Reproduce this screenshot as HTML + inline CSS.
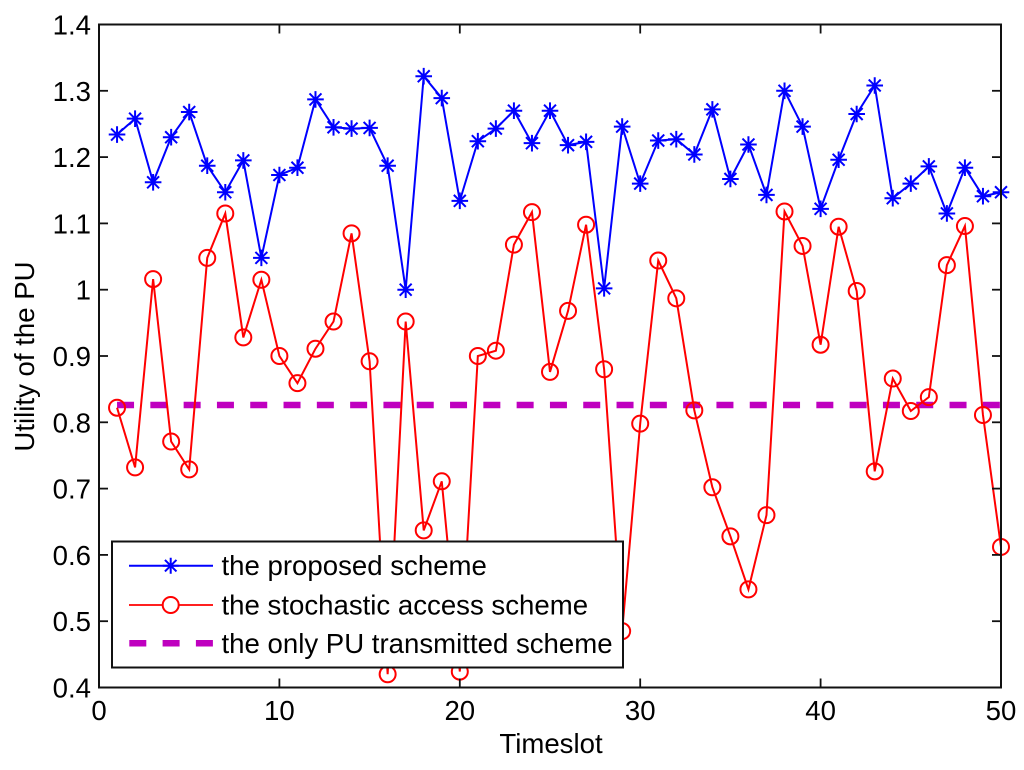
<!DOCTYPE html>
<html>
<head>
<meta charset="utf-8">
<style>
html,body{margin:0;padding:0;background:#fff;}
svg{display:block;font-family:"Liberation Sans",Arial,sans-serif;}
</style>
</head>
<body>
<svg id="chart" width="1024" height="770" viewBox="0 0 1024 770" xmlns="http://www.w3.org/2000/svg">
<rect x="99" y="24.5" width="902" height="663" fill="#fff"/>
<g id="marks"></g>
<g id="axes"></g>
<g id="legend"></g>
</svg>
<script>
const proposedScheme = [1.234,1.258,1.162,1.23,1.268,1.187,1.147,1.195,1.048,1.173,1.184,1.287,1.245,1.243,1.244,1.187,1.0,1.322,1.289,1.134,1.224,1.243,1.27,1.221,1.27,1.218,1.223,1.002,1.246,1.16,1.225,1.227,1.204,1.272,1.167,1.219,1.143,1.3,1.246,1.122,1.196,1.265,1.308,1.138,1.16,1.186,1.115,1.184,1.141,1.147];
const stochasticScheme = [0.822,0.732,1.016,0.771,0.729,1.048,1.115,0.928,1.015,0.9,0.859,0.911,0.952,1.085,0.892,0.42,0.952,0.637,0.711,0.424,0.9,0.908,1.068,1.117,0.876,0.968,1.098,0.88,0.485,0.798,1.044,0.987,0.818,0.702,0.628,0.548,0.66,1.118,1.066,0.917,1.095,0.998,0.726,0.866,0.817,0.838,1.037,1.096,0.811,0.612];
const onlyPuScheme = [0.826,0.826];
const onlyPuSlots = [1,50];
const xTicks = [0,10,20,30,40,50];
const yTicks = [0.4,0.5,0.6,0.7,0.8,0.9,1,1.1,1.2,1.3,1.4];
const yTickLabels = ['0.4','0.5','0.6','0.7','0.8','0.9','1','1.1','1.2','1.3','1.4'];
const legendLabels = ['the proposed scheme','the stochastic access scheme','the only PU transmitted scheme'];

const NS = 'http://www.w3.org/2000/svg';
const L = 99, R = 1001, T = 24.5, B = 687.5;
const FONT = 27.6;
function xScale(v){ return L + (v - 0) / 50 * (R - L); }
function yScale(v){ return B - (v - 0.4) / 1.0 * (B - T); }
function make(tag, attrs, parent){
  const el = document.createElementNS(NS, tag);
  for (const k in attrs) el.setAttribute(k, attrs[k]);
  parent.appendChild(el);
  return el;
}
function star(g, cx, cy, r, color){
  const p = 'M' + (cx - r) + ' ' + cy + 'L' + (cx + r) + ' ' + cy +
    'M' + cx + ' ' + (cy - r) + 'L' + cx + ' ' + (cy + r) +
    'M' + (cx - r * 0.72) + ' ' + (cy - r * 0.72) + 'L' + (cx + r * 0.72) + ' ' + (cy + r * 0.72) +
    'M' + (cx - r * 0.72) + ' ' + (cy + r * 0.72) + 'L' + (cx + r * 0.72) + ' ' + (cy - r * 0.72);
  return make('path', {d: p, stroke: color, 'stroke-width': 2, fill: 'none'}, g);
}
const marks = document.getElementById('marks');
const axes = document.getElementById('axes');
const legend = document.getElementById('legend');

// only-PU dashed series
const puLine = make('polyline', {
  points: onlyPuSlots.map((s, i) => xScale(s) + ',' + yScale(onlyPuScheme[i])).join(' '),
  fill: 'none', stroke: '#bf00bf', 'stroke-width': 6.5, 'stroke-dasharray': '17 16.3'
}, marks);



// stochastic series
const redLine = make('polyline', {
  points: stochasticScheme.map((v, i) => xScale(i + 1) + ',' + yScale(v)).join(' '),
  fill: 'none', stroke: '#ff0000', 'stroke-width': 2
}, marks);


stochasticScheme.forEach((v, i) => {
  const c = make('circle', {cx: xScale(i + 1), cy: yScale(v), r: 8, fill: 'none', stroke: '#ff0000', 'stroke-width': 2}, marks);
  
  
});

// proposed series
const blueLine = make('polyline', {
  points: proposedScheme.map((v, i) => xScale(i + 1) + ',' + yScale(v)).join(' '),
  fill: 'none', stroke: '#0000ff', 'stroke-width': 2
}, marks);


proposedScheme.forEach((v, i) => {
  const s = star(marks, xScale(i + 1), yScale(v), 8.3, '#0000ff');
  
  
});

// axes box
const box = make('rect', {x: L, y: T, width: R - L, height: B - T, fill: 'none', stroke: '#111', 'stroke-width': 2}, axes);


xTicks.forEach(t => {
  const x = xScale(t);
  const a = make('line', {x1: x, x2: x, y1: B, y2: B - 9, stroke: '#111', 'stroke-width': 1.8}, axes);
  
  
  const b = make('line', {x1: x, x2: x, y1: T, y2: T + 9, stroke: '#111', 'stroke-width': 1.8}, axes);
  
  
  const lab = make('text', {x: x, y: 720, 'text-anchor': 'middle', 'font-size': FONT, fill: '#000'}, axes);
  lab.textContent = String(t);
  
  
});
yTicks.forEach((t, i) => {
  const y = yScale(t);
  const a = make('line', {x1: L, x2: L + 9, y1: y, y2: y, stroke: '#111', 'stroke-width': 1.8}, axes);
  
  
  const b = make('line', {x1: R, x2: R - 9, y1: y, y2: y, stroke: '#111', 'stroke-width': 1.8}, axes);
  
  
  const lab = make('text', {x: 91, y: y + 10, 'text-anchor': 'end', 'font-size': FONT, fill: '#000'}, axes);
  lab.textContent = yTickLabels[i];
  
  
});
const xt = make('text', {x: 551, y: 753, 'text-anchor': 'middle', 'font-size': FONT, fill: '#000'}, axes);
xt.textContent = 'Timeslot';


const yt = make('text', {x: 0, y: 0, 'text-anchor': 'middle', 'font-size': FONT, fill: '#000', transform: 'translate(34 356.5) rotate(-90)'}, axes);
yt.textContent = 'Utility of the PU';



// legend
const lb = make('rect', {x: 112, y: 541.5, width: 511, height: 126, fill: '#fff', stroke: '#111', 'stroke-width': 2}, legend);


const ly = [565.7, 605, 643.3];
const l1 = make('line', {x1: 129, x2: 213, y1: ly[0], y2: ly[0], stroke: '#0000ff', 'stroke-width': 2}, legend);


const s1 = star(legend, 170.7, ly[0], 8, '#0000ff');


const l2 = make('line', {x1: 129, x2: 213, y1: ly[1], y2: ly[1], stroke: '#ff0000', 'stroke-width': 1.8}, legend);


const c2 = make('circle', {cx: 170.7, cy: ly[1], r: 8, fill: '#fff', stroke: '#ff0000', 'stroke-width': 2}, legend);


const l3 = make('line', {x1: 129.3, x2: 213, y1: ly[2], y2: ly[2], stroke: '#bf00bf', 'stroke-width': 6.5, 'stroke-dasharray': '17 16.3'}, legend);


legendLabels.forEach((t, i) => {
  const lab = make('text', {x: 221.5, y: ly[i] + 9.5, 'font-size': FONT, fill: '#000'}, legend);
  lab.textContent = t;
  
  
});
</script>
</body>
</html>
